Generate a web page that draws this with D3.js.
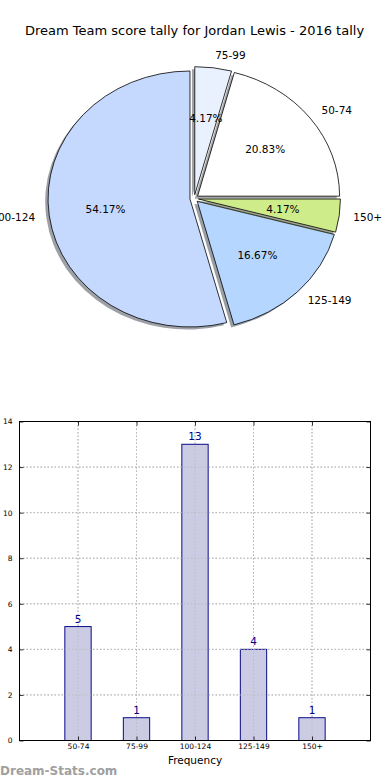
<!DOCTYPE html>
<html><head><meta charset="utf-8">
<script src="https://cdn.jsdelivr.net/npm/d3@7"></script>
<style>
html,body{margin:0;padding:0;background:#fff;}
svg{display:block;font-family:"DejaVu Sans",sans-serif;}
</style></head>
<body>
<script>
// ---- data ----
const titleText = "Dream Team score tally for Jordan Lewis - 2016 tally";
const categories = ["50-74", "75-99", "100-124", "125-149", "150+"];
const counts = [5, 1, 13, 4, 1];
// pie drawing order (counter-clockwise from 12 o'clock)
const pieOrder = ["100-124", "125-149", "150+", "50-74", "75-99"];
const pieColors = ["#c5d9ff", "#b4d6ff", "#cfec8a", "#ffffff", "#e9f1ff"];
const yTicks = [0, 2, 4, 6, 8, 10, 12, 14];
const xLabel = "Frequency";
const yLabel = "Occurrences";
const watermark = "Dream-Stats.com";

const W = 390, H = 780;
const svg = d3.select("body").append("svg").attr("width", W).attr("height", H);

svg.append("text").attr("x", 194.5).attr("y", 35).attr("text-anchor", "middle")
  .attr("font-size", 13).attr("fill", "#000").text(titleText);

// ---- pie ----
const cx = 194.2, cy = 198.5, rx = 142, ry = 128, explode = 0.03;
const total = d3.sum(counts);
const pieData = pieOrder.map((c, i) => ({cat: c, value: counts[categories.indexOf(c)], color: pieColors[i]}));
const pie = d3.pie().value(d => d.value).sort(null).startAngle(0).endAngle(-2 * Math.PI);
const arcs = pie(pieData);
const arc = d3.arc().innerRadius(0).outerRadius(1);
const pieG = svg.append("g");

arcs.forEach(a => {
  const mid = (a.startAngle + a.endAngle) / 2;
  const ux = Math.sin(mid), uy = -Math.cos(mid);
  const ox = cx + explode * rx * ux, oy = cy + explode * ry * uy;
  const c = d3.rgb(a.data.color);
  // shadow
  pieG.append("path")
    .attr("d", arc(a))
    .attr("transform", `translate(${ox - 0.02 * rx},${oy + 0.02 * ry}) scale(${rx},${ry})`)
    .attr("fill", d3.rgb(c.r * 0.3, c.g * 0.3, c.b * 0.3))
    .attr("fill-opacity", 0.5)
    .attr("stroke", "none");
  // wedge
  pieG.append("path")
    .attr("d", arc(a))
    .attr("transform", `translate(${ox},${oy}) scale(${rx},${ry})`)
    .attr("fill", a.data.color)
    .attr("stroke", "#000")
    .attr("stroke-width", 0.8)
    .attr("vector-effect", "non-scaling-stroke");
  a._o = [ox, oy, ux, uy];
});
arcs.forEach(a => {
  const [ox, oy, ux, uy] = a._o;
  const lx = ox + 1.1 * rx * ux, ly = oy + 1.1 * ry * uy;
  pieG.append("text").attr("x", lx).attr("y", ly).attr("dy", "0.35em")
    .attr("text-anchor", ux > 0 ? "start" : "end")
    .attr("font-size", 10.5).attr("fill", "#000").text(a.data.cat);
  const px = ox + 0.6 * rx * ux, py = oy + 0.6 * ry * uy;
  pieG.append("text").attr("x", px).attr("y", py).attr("dy", "0.35em")
    .attr("text-anchor", "middle")
    .attr("font-size", 10.5).attr("fill", "#000")
    .text((a.data.value / total * 100).toFixed(2) + "%");
});

// ---- bar chart ----
const L = 19.5, R = 370.5, T = 421.5, B = 740.5;
const x = d3.scaleLinear().domain([-1, 5]).range([L, R]);
const y = d3.scaleLinear().domain([0, 14]).range([B, T]);
const bg = svg.append("g");

// grid
bg.selectAll(".gy").data(yTicks.slice(1, -1)).enter().append("line")
  .attr("x1", L).attr("x2", R).attr("y1", d => y(d)).attr("y2", d => y(d))
  .attr("stroke", "#b8b8b8").attr("stroke-width", 1).attr("stroke-dasharray", "1.5,2");
bg.selectAll(".gx").data(categories).enter().append("line")
  .attr("x1", (d, i) => x(i)).attr("x2", (d, i) => x(i)).attr("y1", T).attr("y2", B)
  .attr("stroke", "#b8b8b8").attr("stroke-width", 1).attr("stroke-dasharray", "1.5,2");

const bw = 0.45;
bg.selectAll(".bar").data(counts).enter().append("rect")
  .attr("x", (d, i) => x(i - bw / 2)).attr("width", x(bw) - x(0))
  .attr("y", d => y(d)).attr("height", d => y(0) - y(d))
  .attr("fill", "#cbcce4").attr("stroke", "#0a0a8a").attr("stroke-width", 1);

// grid over bars (matplotlib draws grid above)
bg.selectAll(".gx2").data(categories).enter().append("line")
  .attr("x1", (d, i) => x(i)).attr("x2", (d, i) => x(i)).attr("y1", T).attr("y2", B)
  .attr("stroke", "#b8b8b8").attr("stroke-opacity", 0.8).attr("stroke-width", 1).attr("stroke-dasharray", "1.5,2");
bg.selectAll(".gy2").data(yTicks.slice(1, -1)).enter().append("line")
  .attr("x1", L).attr("x2", R).attr("y1", d => y(d)).attr("y2", d => y(d))
  .attr("stroke", "#b8b8b8").attr("stroke-opacity", 0.8).attr("stroke-width", 1).attr("stroke-dasharray", "1.5,2");

bg.selectAll(".val").data(counts).enter().append("text")
  .attr("x", (d, i) => x(i)).attr("y", d => y(d) - 4)
  .attr("text-anchor", "middle").attr("font-size", 10.5).attr("fill", "#00008b").text(d => d);

// axes with inward ticks on all sides
const axL = d3.axisLeft(y).tickValues(yTicks).tickSize(-4).tickPadding(7);
const axR = d3.axisRight(y).tickValues(yTicks).tickSize(-4).tickFormat("");
const axB = d3.axisBottom(x).tickValues(d3.range(categories.length)).tickFormat(i => categories[i]).tickSize(-4).tickPadding(3);
const axT = d3.axisTop(x).tickValues(d3.range(categories.length)).tickSize(-4).tickFormat("");
function style(g) {
  g.select(".domain").remove();
  g.selectAll("line").attr("stroke", "#000").attr("stroke-width", 0.8);
  g.selectAll("text").attr("font-size", 7.5).attr("fill", "#000").attr("font-family", "DejaVu Sans");
}
bg.append("g").attr("transform", `translate(${L},0)`).call(axL).call(style);
bg.append("g").attr("transform", `translate(${R},0)`).call(axR).call(style);
bg.append("g").attr("transform", `translate(0,${B})`).call(axB).call(style);
bg.append("g").attr("transform", `translate(0,${T})`).call(axT).call(style);

bg.append("rect").attr("x", L).attr("y", T).attr("width", R - L).attr("height", B - T)
  .attr("fill", "none").attr("stroke", "#000").attr("stroke-width", 1);

bg.append("text").attr("x", (L + R) / 2).attr("y", 764).attr("text-anchor", "middle")
  .attr("font-size", 10.5).attr("fill", "#000").text(xLabel);
bg.append("text").attr("transform", `translate(-4,${(T + B) / 2}) rotate(-90)`)
  .attr("text-anchor", "middle").attr("font-size", 10.5).attr("fill", "#000").text(yLabel);

svg.append("text").attr("x", 0).attr("y", 775).attr("font-size", 12).attr("font-weight", "bold")
  .attr("fill", "#a0a0a0").text(watermark);
</script>
</body></html>
